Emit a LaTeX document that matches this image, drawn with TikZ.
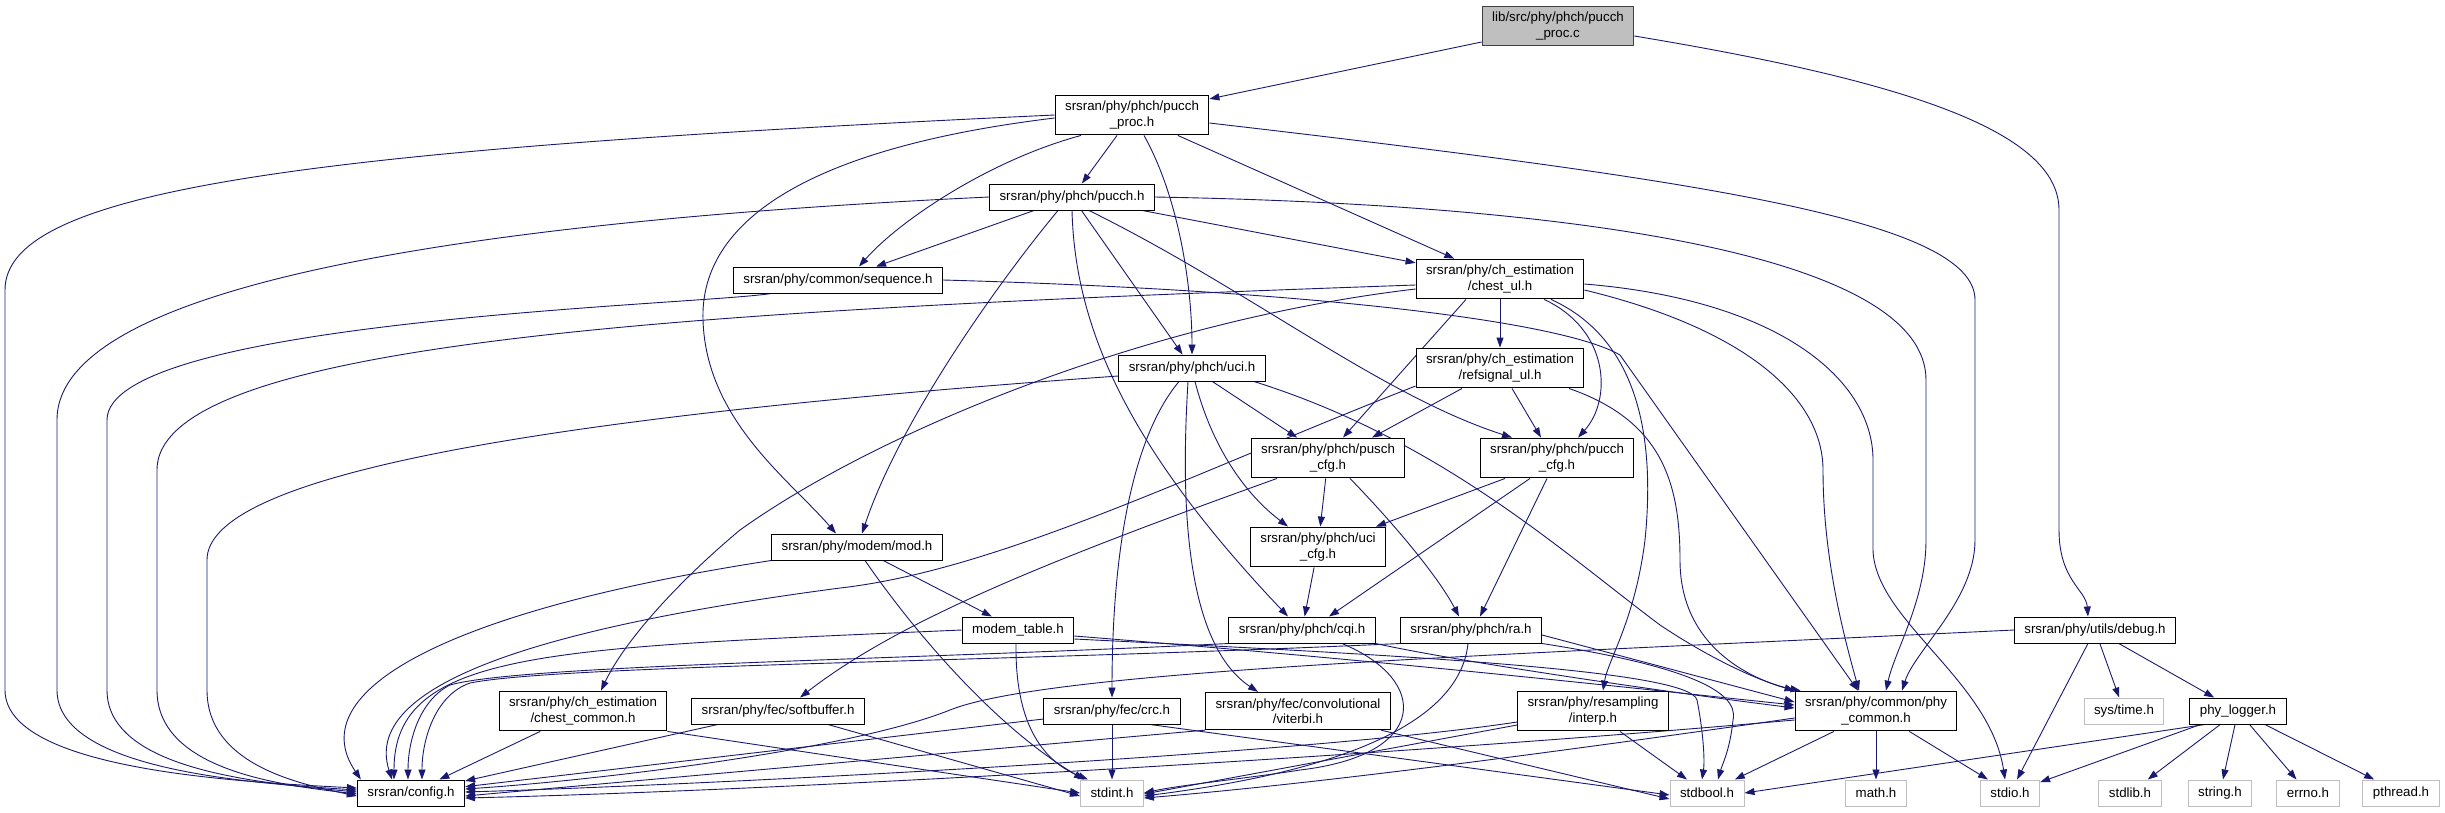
\documentclass[tikz,border=0pt]{standalone}
\usepackage{fontspec}
\setmainfont{Liberation Sans}
\usepackage{tikz}
\usepackage{xcolor}
\usetikzlibrary{arrows.meta,backgrounds}

\definecolor{edgeblue}{HTML}{191970}
\definecolor{sysgray}{HTML}{BFBFBF}
\definecolor{rootline}{HTML}{404040}

\tikzset{
  hfile/.style={draw=black, fill=white, line width=1pt, align=center,
    inner xsep=10pt, inner ysep=6pt, minimum height=26pt,
    font=\fontsize{13.3}{15.5}\selectfont},
  sysfile/.style={hfile, draw=sysgray},
  rootfile/.style={hfile, fill=sysgray, draw=rootline},
  incl/.style={draw=edgeblue, line width=0.9pt, -{Triangle[length=10pt,width=7pt]}}
}

\begin{document}
\begin{tikzpicture}[x=1pt,y=-1pt]
    \useasboundingbox (0,0) rectangle (2445,812);

    \node[rootfile] (root) at (1558,26) {lib/src/phy/phch/pucch\\\_proc.c};
    \node[hfile] (pproc) at (1132,115) {srsran/phy/phch/pucch\\\_proc.h};
    \node[hfile] (pucch) at (1072,197) {srsran/phy/phch/pucch.h};
    \node[hfile] (seq) at (838,280) {srsran/phy/common/sequence.h};
    \node[hfile] (chest) at (1500,279) {srsran/phy/ch\_estimation\\/chest\_ul.h};
    \node[hfile] (uci) at (1192,368) {srsran/phy/phch/uci.h};
    \node[hfile] (refsig) at (1500,368) {srsran/phy/ch\_estimation\\/refsignal\_ul.h};
    \node[hfile] (puschcfg) at (1328,458) {srsran/phy/phch/pusch\\\_cfg.h};
    \node[hfile] (pucchcfg) at (1557,458) {srsran/phy/phch/pucch\\\_cfg.h};
    \node[hfile] (mod) at (857,547) {srsran/phy/modem/mod.h};
    \node[hfile] (ucicfg) at (1318,547) {srsran/phy/phch/uci\\\_cfg.h};
    \node[hfile] (mtable) at (1018,630) {modem\_table.h};
    \node[hfile] (cqi) at (1302,630) {srsran/phy/phch/cqi.h};
    \node[hfile] (ra) at (1471,630) {srsran/phy/phch/ra.h};
    \node[hfile] (debug) at (2095,630) {srsran/phy/utils/debug.h};
    \node[hfile] (chestcom) at (583,711) {srsran/phy/ch\_estimation\\/chest\_common.h};
    \node[hfile] (softbuf) at (778,711) {srsran/phy/fec/softbuffer.h};
    \node[hfile] (crc) at (1112,711) {srsran/phy/fec/crc.h};
    \node[hfile] (viterbi) at (1298,711) {srsran/phy/fec/convolutional\\/viterbi.h};
    \node[hfile] (interp) at (1593,711) {srsran/phy/resampling\\/interp.h};
    \node[hfile] (phycom) at (1876,711) {srsran/phy/common/phy\\\_common.h};
    \node[sysfile] (systime) at (2124,711) {sys/time.h};
    \node[hfile] (logger) at (2238,711) {phy\_logger.h};
    \node[hfile] (config) at (411,793) {srsran/config.h};
    \node[sysfile] (stdint) at (1112,793) {stdint.h};
    \node[sysfile] (stdbool) at (1707,793) {stdbool.h};
    \node[sysfile] (math) at (1876,793) {math.h};
    \node[sysfile] (stdio) at (2010,793) {stdio.h};
    \node[sysfile] (stdlib) at (2130,793) {stdlib.h};
    \node[sysfile] (string) at (2220,793) {string.h};
    \node[sysfile] (errno) at (2308,793) {errno.h};
    \node[sysfile] (pthread) at (2401,793) {pthread.h};

    \begin{scope}[on background layer]
    \draw[incl] (root) -- (pproc);
    \draw[incl] ([yshift=-10pt]root.east) .. controls (1900,80) and (2059,130) .. (2059,210) -- (2059,530) .. controls (2059,580) and (2086,590) .. ([xshift=-7pt]debug.north);

    \draw[incl] (pproc.west) .. controls (300,150) and (5,190) .. (5,290) -- (5,690) .. controls (5,770) and (240,782) .. ([yshift=5pt]config.west);
    \draw[incl] (pproc) -- (pucch);
    \draw[incl] ([xshift=-51pt]pproc.south) .. controls (990,160) and (900,220) .. ([xshift=21pt]seq.north);
    \draw[incl] ([yshift=-3pt]pproc.west) .. controls (790,150) and (700,230) .. (703,320) .. controls (706,420) and (790,480) .. ([xshift=-21pt]mod.north);
    \draw[incl] ([xshift=12pt]pproc.south) .. controls (1180,200) and (1192,290) .. (uci.north);
    \draw[incl] (pproc) -- (chest);
    \draw[incl] ([yshift=-8pt]pproc.east) .. controls (1700,180) and (1975,220) .. (1975,300) -- (1975,540) .. controls (1975,600) and (1915,650) .. ([xshift=26pt]phycom.north);

    \draw[incl] (pucch.west) .. controls (500,220) and (57,280) .. (57,420) -- (57,690) .. controls (57,770) and (250,783) .. ([yshift=3pt]config.west);
    \draw[incl] (pucch) -- (seq);
    \draw[incl] (pucch) -- (chest);
    \draw[incl] (pucch) -- (uci);
    \draw[incl] ([xshift=-14pt]pucch.south) .. controls (1000,280) and (900,420) .. ([xshift=5pt]mod.north);
    \draw[incl] (pucch.south) .. controls (1075,330) and (1130,450) .. ([xshift=-14pt]cqi.north);
    \draw[incl] ([xshift=17pt]pucch.south) .. controls (1250,290) and (1380,395) .. ([xshift=-45pt]pucchcfg.north);
    \draw[incl] (pucch.east) .. controls (1600,205) and (1926,260) .. (1926,380) -- (1926,540) .. controls (1926,600) and (1895,650) .. ([xshift=10pt]phycom.north);

    \draw[incl] ([xshift=-67pt]seq.south) .. controls (700,305) and (107,320) .. (107,420) -- (107,690) .. controls (107,770) and (260,783) .. ([yshift=1pt]config.west);
    \draw[incl] (seq.east) .. controls (1300,290) and (1560,320) .. (1620,355) -- ([xshift=-18pt]phycom.north);

    \draw[incl] ([yshift=-6pt]chest.west) .. controls (700,310) and (157,340) .. (157,470) -- (157,690) .. controls (157,770) and (280,785) .. ([yshift=-1pt]config.west);
    \draw[incl] ([yshift=-10pt]chest.west) .. controls (1150,320) and (880,430) .. (740,530) .. controls (680,580) and (625,640) .. ([xshift=18pt]chestcom.north);
    \draw[incl] (chest) -- (refsig);
    \draw[incl] ([xshift=-34pt]chest.south) -- ([xshift=15pt]puschcfg.north);
    \draw[incl] ([xshift=44pt]chest.south) .. controls (1610,330) and (1612,400) .. ([xshift=21pt]pucchcfg.north);
    \draw[incl] ([xshift=51pt]chest.south) .. controls (1640,340) and (1655,440) .. (1645,540) .. controls (1635,620) and (1608,660) .. ([xshift=10pt]interp.north);
    \draw[incl] ([yshift=-11pt]chest.east) .. controls (1750,330) and (1823,400) .. (1823,470) .. controls (1823,560) and (1845,640) .. ([xshift=-17pt]phycom.north);
    \draw[incl] ([yshift=-5pt]chest.east) .. controls (1780,300) and (1873,380) .. (1873,460) -- (1873,550) .. controls (1875,620) and (1990,680) .. ([xshift=-5pt]stdio.north);

    \draw[incl] ([yshift=-18pt]refsig.west) .. controls (1200,470) and (1000,570) .. (840,588) .. controls (560,625) and (360,680) .. ([xshift=-19pt]config.north);
    \draw[incl] ([xshift=-38pt]refsig.south) -- ([xshift=44pt]puschcfg.north);
    \draw[incl] ([xshift=12pt]refsig.south) -- ([xshift=-16pt]pucchcfg.north);
    \draw[incl] ([xshift=69pt]refsig.south) .. controls (1660,420) and (1680,480) .. (1680,560) .. controls (1680,640) and (1740,675) .. (phycom.north west);

    \draw[incl] ([yshift=-8pt]uci.west) .. controls (500,420) and (207,480) .. (207,560) -- (207,690) .. controls (207,765) and (300,784) .. ([yshift=-3pt]config.west);
    \draw[incl] (uci) -- (puschcfg);
    \draw[incl] ([xshift=3pt]uci.south) .. controls (1210,440) and (1240,490) .. ([xshift=-30pt]ucicfg.north);
    \draw[incl] ([xshift=-13pt]uci.south) .. controls (1130,440) and (1112,560) .. (crc.north);
    \draw[incl] ([xshift=-4pt]uci.south) .. controls (1182,480) and (1180,640) .. ([xshift=-40pt]viterbi.north);
    \draw[incl] ([xshift=62pt]uci.south) .. controls (1440,440) and (1560,550) .. (1660,625) .. controls (1720,665) and (1770,685) .. ([xshift=6pt]phycom.north west);

    \draw[incl] (puschcfg) -- (ucicfg);
    \draw[incl] ([xshift=22pt]puschcfg.south) .. controls (1400,530) and (1440,580) .. ([xshift=-12pt]ra.north);
    \draw[incl] ([xshift=-51pt]puschcfg.south) .. controls (1050,560) and (900,620) .. ([xshift=22pt]softbuf.north);

    \draw[incl] ([xshift=-52pt]pucchcfg.south) -- ([xshift=58pt]ucicfg.north);
    \draw[incl] ([xshift=-27pt]pucchcfg.south) -- ([xshift=27pt]cqi.north);
    \draw[incl] ([xshift=-10pt]pucchcfg.south) -- ([xshift=9pt]ra.north);
    \draw[incl] (ucicfg) -- (cqi);

    \draw[incl] (mod.south west) .. controls (450,610) and (300,690) .. ([xshift=4pt]config.north west);
    \draw[incl] (mod) -- (mtable);
    \draw[incl] ([xshift=8pt]mod.south) .. controls (920,640) and (1000,730) .. ([xshift=-28pt]stdint.north);

    \draw[incl] (mtable.west) .. controls (550,648) and (394,650) .. ([xshift=-17pt]config.north);
    \draw[incl] ([xshift=-2pt]mtable.south) .. controls (1015,720) and (1040,760) .. ([xshift=-24pt]stdint.north);
    \draw[incl] ([yshift=-6pt]mtable.east) .. controls (1400,662) and (1650,690) .. ([yshift=6pt]phycom.west);
    \draw[incl] ([yshift=-9pt]mtable.east) .. controls (1400,655) and (1690,670) .. (1697,700) .. controls (1703,730) and (1705,760) .. ([xshift=-5pt]stdbool.north);

    \draw[incl] (cqi.south west) .. controls (900,660) and (520,665) .. (450,685) .. controls (420,700) and (408,740) .. ([xshift=-3pt]config.north);
    \draw[incl] (cqi.south east) .. controls (1450,660) and (1650,690) .. ([yshift=3pt]phycom.west);
    \draw[incl] ([xshift=40pt]cqi.south) .. controls (1430,680) and (1430,755) .. (1300,770) .. controls (1250,778) and (1180,785) .. (stdint.east);

    \draw[incl] (ra.south west) .. controls (1000,662) and (560,665) .. (470,683) .. controls (435,695) and (422,740) .. ([xshift=11pt]config.north);
    \draw[incl] ([yshift=-5pt]ra.east) -- ([yshift=9pt]phycom.west);
    \draw[incl] ([xshift=-3pt]ra.south) .. controls (1460,720) and (1350,770) .. ([yshift=-3pt]stdint.east);
    \draw[incl] (ra.south east) .. controls (1680,665) and (1740,690) .. (1733,720) .. controls (1730,750) and (1722,765) .. ([xshift=11pt]stdbool.north);

    \draw[incl] (chestcom) -- (config);
    \draw[incl] (chestcom.south east) -- (stdint.west);
    \draw[incl] (softbuf) -- (config);
    \draw[incl] ([xshift=50pt]softbuf.south) -- ([yshift=-3pt]stdint.west);

    \draw[incl] (crc) -- (config);
    \draw[incl] (crc) -- (stdint);
    \draw[incl] ([xshift=38pt]crc.south) -- ([yshift=-2pt]stdbool.west);
    \draw[incl] (viterbi.south west) -- ([yshift=-3pt]config.east);
    \draw[incl] ([xshift=-10pt]viterbi.south east) -- ([yshift=-6pt]stdbool.west);
    \draw[incl] ([yshift=-11pt]interp.west) .. controls (1300,755) and (700,785) .. ([yshift=1pt]config.east);
    \draw[incl] ([yshift=-14pt]interp.west) -- ([yshift=-1pt]stdint.east);
    \draw[incl] ([xshift=27pt]interp.south) -- ([xshift=-20pt]stdbool.north);

    \draw[incl] ([yshift=-9pt]phycom.west) .. controls (1400,755) and (800,790) .. ([yshift=-5pt]config.east);
    \draw[incl] ([yshift=-7pt]phycom.west) .. controls (1500,760) and (1300,785) .. ([yshift=-5pt]stdint.east);
    \draw[incl] (phycom) -- (stdbool);
    \draw[incl] (phycom) -- (math);
    \draw[incl] (phycom) -- (stdio);

    \draw[incl] (debug.west) .. controls (1500,655) and (1050,670) .. (950,710) .. controls (850,750) and (600,780) .. ([yshift=4pt]config.east);
    \draw[incl] (debug) -- (stdio);
    \draw[incl] (debug) -- (systime);
    \draw[incl] (debug) -- (logger);

    \draw[incl] ([xshift=-33pt]logger.south) -- (stdbool.east);
    \draw[incl] (logger) -- (stdio);
    \draw[incl] (logger) -- (stdlib);
    \draw[incl] (logger) -- (string);
    \draw[incl] (logger) -- (errno);
    \draw[incl] (logger) -- (pthread);
    \end{scope}
\end{tikzpicture}
\end{document}
